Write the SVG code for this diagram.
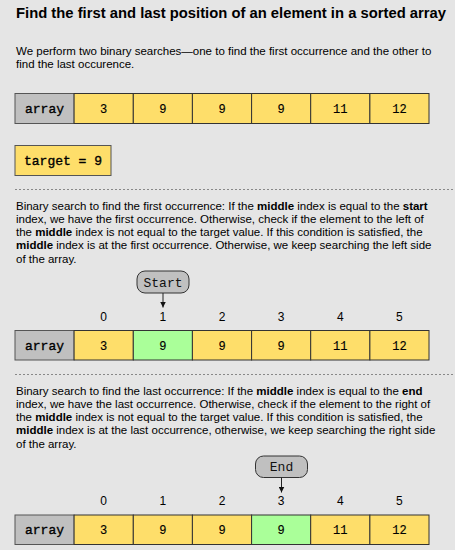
<svg xmlns="http://www.w3.org/2000/svg" width="455" height="550" viewBox="0 0 455 550">
<defs>
<style>
.bg{fill:#e5e5e5}
.title{font-family:"Liberation Sans",Arial,sans-serif;font-weight:bold;font-size:14.8px;fill:#000}
.p{font-family:"Liberation Sans",Arial,sans-serif;font-size:11.5px;fill:#000}
.b{font-weight:bold}
.idx{font-family:"Liberation Sans",Arial,sans-serif;font-size:12px;fill:#000;text-anchor:middle}
.mono{font-family:"Liberation Mono","Courier New",monospace;font-size:12px;fill:#000;stroke:#000;stroke-width:0.15;text-anchor:middle}
.pl{font-family:"Liberation Mono","Courier New",monospace;font-size:13px;fill:#111;text-anchor:middle}
.monob{font-family:"Liberation Mono","Courier New",monospace;font-size:13px;fill:#000;stroke:#000;stroke-width:0.35;text-anchor:middle}
.lab{fill:#c0c0c0;stroke:#555;stroke-width:1}
.y{fill:#fede6a;stroke:#333;stroke-width:1}
.g{fill:#aaff99;stroke:#333;stroke-width:1}
.pill{fill:#c0c0c0;stroke:#333;stroke-width:1}
.sep{stroke:#888;stroke-width:1;stroke-dasharray:2,2}
.arr{stroke:#222;stroke-width:1;fill:none}
</style>
<marker id="ah" markerWidth="6" markerHeight="6" refX="6" refY="3" orient="auto" markerUnits="userSpaceOnUse">
<path d="M0,0 L6,3 L0,6 Z" fill="#111"/>
</marker>
</defs>
<rect class="bg" x="0" y="0" width="455" height="550"/>

<text class="title" x="16" y="17.5">Find the first and last position of an element in a sorted array</text>
<text class="p" x="16" y="54.5">We perform two binary searches—one to find the first occurrence and the other to</text>
<text class="p" x="16" y="67.8">find the last occurence.</text>

<g id="array1">
<rect class="lab" x="15" y="93.5" width="59.1" height="30"/>
<rect class="y" x="74.1" y="93.5" width="59.2" height="30"/>
<rect class="y" x="133.3" y="93.5" width="59.1" height="30"/>
<rect class="y" x="192.4" y="93.5" width="59.2" height="30"/>
<rect class="y" x="251.6" y="93.5" width="59.1" height="30"/>
<rect class="y" x="310.7" y="93.5" width="59.2" height="30"/>
<rect class="y" x="369.9" y="93.5" width="59.1" height="30"/>
<text class="monob" x="44.5" y="112.5">array</text>
<text class="mono" x="103.7" y="112.5">3</text>
<text class="mono" x="162.8" y="112.5">9</text>
<text class="mono" x="222" y="112.5">9</text>
<text class="mono" x="281.1" y="112.5">9</text>
<text class="mono" x="340.3" y="112.5">11</text>
<text class="mono" x="399.4" y="112.5">12</text>
</g>

<g id="target">
<rect class="y" x="15" y="145.5" width="96" height="30" style="stroke:#555"/>
<text class="monob" x="63" y="164.5">target = 9</text>
</g>

<line class="sep" x1="15" y1="189.5" x2="455" y2="189.5"/>

<text class="p" x="16" y="209.5">Binary search to find the first occurrence: If the <tspan class="b">middle</tspan> index is equal to the <tspan class="b">start</tspan></text>
<text class="p" x="16" y="222.8">index, we have the first occurrence. Otherwise, check if the element to the left of</text>
<text class="p" x="16" y="236.1">the <tspan class="b">middle</tspan> index is not equal to the target value. If this condition is satisfied, the</text>
<text class="p" x="16" y="249.4"><tspan class="b">middle</tspan> index is at the first occurrence. Otherwise, we keep searching the left side</text>
<text class="p" x="16" y="262.7">of the array.</text>

<g id="start">
<rect class="pill" x="137" y="271" width="52" height="22" rx="8"/>
<text class="pl" x="163" y="286.5">Start</text>
</g>

<g id="array2">
<text class="idx" x="103.7" y="320.5">0</text>
<text class="idx" x="162.8" y="320.5">1</text>
<text class="idx" x="222" y="320.5">2</text>
<text class="idx" x="281.1" y="320.5">3</text>
<text class="idx" x="340.3" y="320.5">4</text>
<text class="idx" x="399.4" y="320.5">5</text>
<rect class="lab" x="15" y="330.5" width="59.1" height="29.5"/>
<rect class="y" x="74.1" y="330.5" width="59.2" height="29.5"/>
<rect class="g" x="133.3" y="330.5" width="59.1" height="29.5"/>
<rect class="y" x="192.4" y="330.5" width="59.2" height="29.5"/>
<rect class="y" x="251.6" y="330.5" width="59.1" height="29.5"/>
<rect class="y" x="310.7" y="330.5" width="59.2" height="29.5"/>
<rect class="y" x="369.9" y="330.5" width="59.1" height="29.5"/>
<text class="monob" x="44.5" y="349.5">array</text>
<text class="mono" x="103.7" y="349.5">3</text>
<text class="mono" x="162.8" y="349.5">9</text>
<text class="mono" x="222" y="349.5">9</text>
<text class="mono" x="281.1" y="349.5">9</text>
<text class="mono" x="340.3" y="349.5">11</text>
<text class="mono" x="399.4" y="349.5">12</text>
</g>

<line class="sep" x1="15" y1="374.5" x2="455" y2="374.5"/>

<text class="p" x="16" y="394.5">Binary search to find the last occurrence: If the <tspan class="b">middle</tspan> index is equal to the <tspan class="b">end</tspan></text>
<text class="p" x="16" y="407.8">index, we have the last occurrence. Otherwise, check if the element to the right of</text>
<text class="p" x="16" y="421.1">the <tspan class="b">middle</tspan> index is not equal to the target value. If this condition is satisfied, the</text>
<text class="p" x="16" y="434.4"><tspan class="b">middle</tspan> index is at the last occurrence, otherwise, we keep searching the right side</text>
<text class="p" x="16" y="447.7">of the array.</text>

<g id="end">
<rect class="pill" x="255.5" y="456" width="52" height="21.5" rx="8"/>
<text class="pl" x="281.5" y="471.3">End</text>
</g>

<g id="array3">
<text class="idx" x="103.7" y="505.3">0</text>
<text class="idx" x="162.8" y="505.3">1</text>
<text class="idx" x="222" y="505.3">2</text>
<text class="idx" x="281.1" y="505.3">3</text>
<text class="idx" x="340.3" y="505.3">4</text>
<text class="idx" x="399.4" y="505.3">5</text>
<rect class="lab" x="15" y="515" width="59.1" height="29.5"/>
<rect class="y" x="74.1" y="515" width="59.2" height="29.5"/>
<rect class="y" x="133.3" y="515" width="59.1" height="29.5"/>
<rect class="y" x="192.4" y="515" width="59.2" height="29.5"/>
<rect class="g" x="251.6" y="515" width="59.1" height="29.5"/>
<rect class="y" x="310.7" y="515" width="59.2" height="29.5"/>
<rect class="y" x="369.9" y="515" width="59.1" height="29.5"/>
<text class="monob" x="44.5" y="534">array</text>
<text class="mono" x="103.7" y="534">3</text>
<text class="mono" x="162.8" y="534">9</text>
<text class="mono" x="222" y="534">9</text>
<text class="mono" x="281.1" y="534">9</text>
<text class="mono" x="340.3" y="534">11</text>
<text class="mono" x="399.4" y="534">12</text>
</g>

<g id="connectors">
<line class="arr" x1="163" y1="293" x2="163" y2="307.5" marker-end="url(#ah)"/>
<line class="arr" x1="281.5" y1="477.5" x2="281.5" y2="492.5" marker-end="url(#ah)"/>
</g>
</svg>
